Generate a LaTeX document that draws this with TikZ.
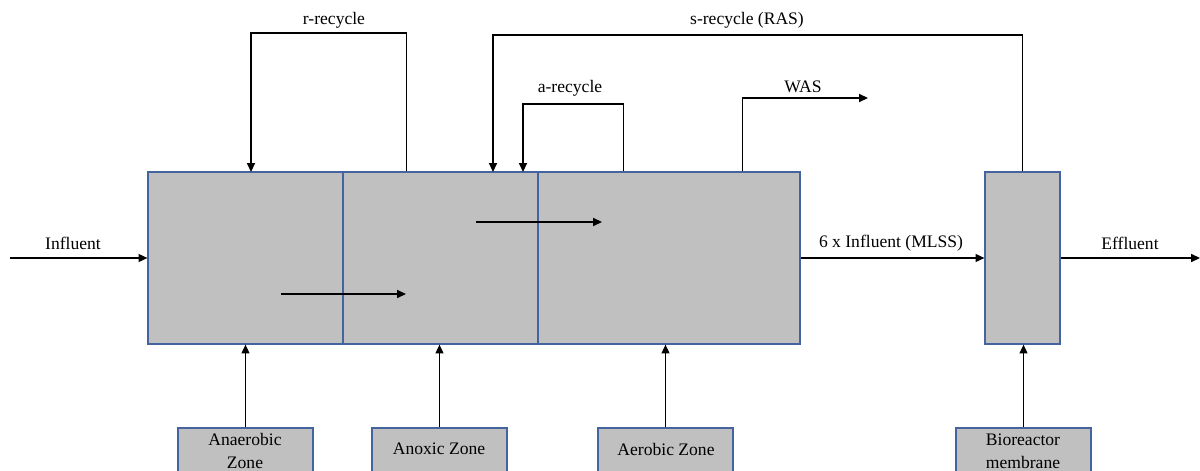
\documentclass[tikz,border=0pt]{standalone}
\usepackage{fontspec}
\setmainfont{Liberation Serif}
\usetikzlibrary{arrows.meta,fit,calc}
\definecolor{boxfill}{RGB}{192,192,192}
\definecolor{boxline}{RGB}{68,100,160}
\tikzset{
  zone/.style={draw=boxline,fill=boxfill,line width=0.7pt,inner sep=0pt},
  lbl/.style={font=\fontsize{10}{13}\selectfont,inner sep=1pt},
  arr/.style={line width=0.8pt,-{Triangle[length=5pt,width=4.5pt]}},
  ln/.style={line width=0.8pt}
}
\begin{document}
\begin{tikzpicture}[x=0.02cm,y=-0.02cm]
\useasboundingbox (0,0) rectangle (1200,470);
\clip (0,0) rectangle (1200,470);
% main reactor zones
\node[zone,fit={(148,172) (343,344)}] (z1) {};
\node[zone,fit={(343,172) (538,344)}] (z2) {};
\node[zone,fit={(538,172) (800,344)}] (z3) {};
\node[zone,fit={(985,172) (1060,344)}] (mem) {};
% bottom label boxes
\node[zone,fit={(178,428) (313,480)}] (b1) {};
\node[zone,fit={(372,428) (507,480)}] (b2) {};
\node[zone,fit={(598,428) (733,480)}] (b3) {};
\node[zone,fit={(956,428) (1091,480)}] (b4) {};
\node[lbl,align=center] (t1) at (245,451) {Anaerobic\\Zone};
\node[lbl] (t2) at (439,449) {Anoxic Zone};
\node[lbl] (t3) at (666,449) {Aerobic Zone};
\node[lbl,align=center] (t4) at (1023,451) {Bioreactor\\membrane};
% air / membrane arrows
\draw[arr] (b1.north) -- (b1.north |- z1.south);
\draw[arr] (b2.north) -- (b2.north |- z2.south);
\draw[arr] (b3.north) -- (b3.north |- z3.south);
\draw[arr] (b4.north) -- (b4.north |- mem.south);
% flow arrows inside
\coordinate (f1) at (281,294); \coordinate (f2) at (406,294);
\coordinate (f3) at (476,222); \coordinate (f4) at (602,222);
\draw[arr] (f1) -- (f2);
\draw[arr] (f3) -- (f4);
% influent / effluent
\coordinate (in) at (10,258);
\coordinate (out) at (1200,258);
\draw[arr] (in) -- (in -| z1.west);
\draw[arr] (z3.east |- in) -- (mem.west |- in);
\draw[arr] (mem.east |- in) -- (out);
\node[lbl] (lin) at (73,243) {Influent};
\node[lbl] (lmlss) at (891,243) {6 x Influent (MLSS)};
\node[lbl] (leff) at (1130,243) {Effluent};
% r-recycle
\draw[arr] ($(z2.north west)+(64,0)$) |- (251,33) -- (251,172);
\node[lbl] (lr) at (334,20) {r-recycle};
% s-recycle
\draw[arr] (mem.north) |- (493,35) -- (493,172);
\node[lbl] (ls) at (747,20) {s-recycle (RAS)};
% a-recycle
\draw[arr] ($(z3.north west)+(86,0)$) |- (523,104) -- (523,172);
\node[lbl] (la) at (570,88) {a-recycle};
% WAS
\coordinate (was) at (868,98);
\draw[arr] ($(z3.north west)+(205,0)$) |- (was);
\node[lbl] (lw) at (803,87) {WAS};
\end{tikzpicture}
\end{document}
